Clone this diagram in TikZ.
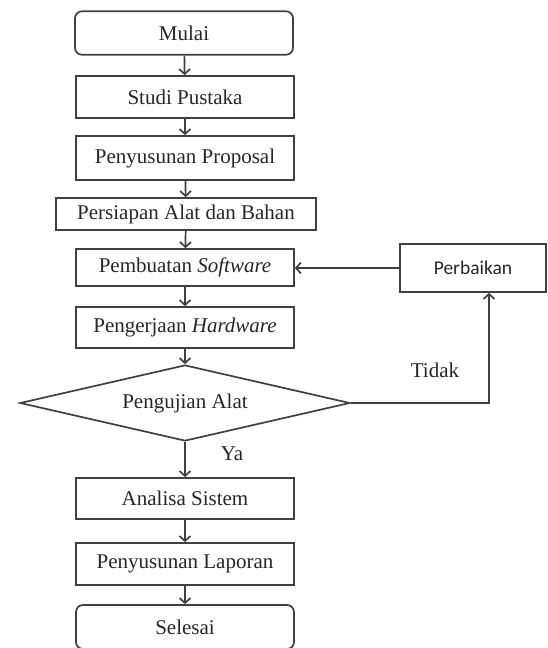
\documentclass[tikz,border=0pt]{standalone}
\usepackage{fontspec}
\setmainfont{Liberation Serif}
\newfontfamily\calibrifont{Carlito}
\usetikzlibrary{shapes.geometric,arrows.meta}
\begin{document}
\begin{tikzpicture}[x=1pt,y=-1pt,
  every node/.style={font=\fontsize{21}{25}\selectfont, text=black!85},
  procbox/.style={draw=black!75, line width=1.7pt, minimum width=218pt, inner sep=0pt},
  termbox/.style={procbox, rounded corners=7pt},
  decbox/.style={draw=black!75, line width=1.7pt, diamond, inner sep=0pt, shape aspect=4.3, minimum width=330pt, minimum height=76pt},
  conn/.style={draw=black!75, line width=1.7pt, -{Straight Barb[length=5pt,width=11pt]}}]
\useasboundingbox (0,0) rectangle (547,648);
\clip (0,0) rectangle (547,648);
\node[termbox, minimum height=43.5pt] (mulai) at (184,33) {Mulai};
\node[procbox, minimum height=42pt] (studi) at (185,97) {Studi Pustaka};
\node[procbox, minimum height=44pt] (prop) at (185,158) {Penyusunan Proposal};
\node[procbox, minimum width=260pt, minimum height=32pt] (siap) at (186,214) {Persiapan Alat dan Bahan};
\node[procbox, minimum height=37pt] (soft) at (185,267.5) {Pembuatan \textit{Software}};
\node[procbox, minimum height=41pt] (hard) at (185,327.5) {Pengerjaan \textit{Hardware}};
\node[decbox] (uji) at (185,403) {Pengujian Alat};
\node[procbox, minimum height=41pt] (analisa) at (185,498.5) {Analisa Sistem};
\node[procbox, minimum height=42pt] (lapor) at (185,564) {Penyusunan Laporan};
\node[termbox, minimum height=44pt] (selesai) at (185,627) {Selesai};
\node[procbox, minimum width=146pt, minimum height=48pt, font=\calibrifont\fontsize{19.5}{23}\selectfont] (perb) at (473,268) {Perbaikan};
\node (tidak) at (435,370) {Tidak};
\node (ya) at (232,454) {Ya};
\coordinate (corner) at (489,403);
\draw[conn] (mulai) -- (studi);
\draw[conn] (studi) -- (prop);
\draw[conn] (prop) -- (siap);
\draw[conn] (siap) -- (soft);
\draw[conn] (soft) -- (hard);
\draw[conn] (hard) -- (uji);
\draw[conn] (uji) -- (analisa);
\draw[conn] (analisa) -- (lapor);
\draw[conn] (lapor) -- (selesai);
\draw[conn] (uji.east) -- (corner) -- (corner |- perb.south);
\draw[conn] (perb.west) -- (perb.west -| soft.east);
\end{tikzpicture}
\end{document}
